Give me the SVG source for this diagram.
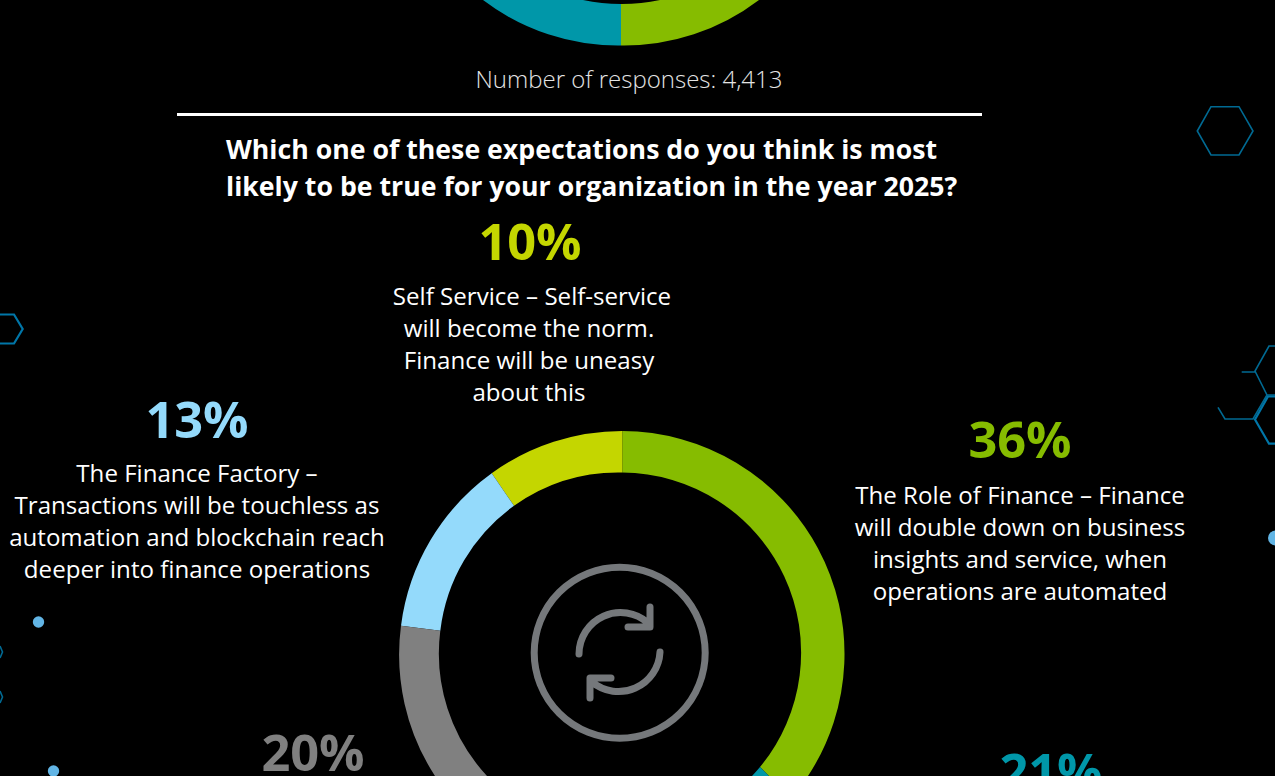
<svg xmlns="http://www.w3.org/2000/svg" width="1275" height="776" viewBox="0 0 1275 776">
<style>
text{font-family:"Open Sans","Liberation Sans",sans-serif;fill:#fff}
.b{font-size:24.1px;text-anchor:middle}
.q{font-size:26.7px;font-weight:700}
.p{font-size:50.5px;font-weight:700;text-anchor:middle}
.h{fill:none;stroke:#006a93;stroke-width:1.6}
.d{fill:#62b5e5}
.i{fill:none;stroke:#75787b;stroke-linecap:round;stroke-linejoin:round}
</style>
<rect width="1275" height="776" fill="#000"/>
<g id="top-donut">
<path d="M621 45.500A222.800 222.800 0 0 1 483 0L583 0A182 182 0 0 0 621 4Z" fill="#0097a9"/>
<path d="M621 45.500A222.800 222.800 0 0 0 759 0L660 0A182 182 0 0 1 621 4Z" fill="#86bc00"/>
</g>
<text id="responses" x="629" y="88" text-anchor="middle" font-size="24" font-weight="300" style="fill:#e4e4e4">Number of responses: 4,413</text>
<rect id="rule" x="177" y="113" width="805" height="3" fill="#fff"/>
<g id="question">
<text class="q" x="226" y="159">Which one of these expectations do you think is most</text>
<text class="q" x="226" y="196">likely to be true for your organization in the year 2025?</text>
</g>
<g id="donut">
<path d="M622.300 431A222.800 222.800 0 0 1 808 776L769 776L760 767A180 180 0 0 0 622.300 472.500Z" fill="#86bc00"/>
<path d="M769 776L760 767A180 180 0 0 1 752 776Z" fill="#0097a9"/>
<path d="M491.700 473.300A222.800 222.800 0 0 1 622.300 431L622.300 472.500A180 180 0 0 0 514 505.700Z" fill="#c4d600"/>
<path d="M401 625.700A222.800 222.800 0 0 1 491.700 473.300L514 505.700A180 180 0 0 0 440.300 630.700Z" fill="#94dafb"/>
<path d="M435 776A222.800 222.800 0 0 1 401 625.700L440.300 630.700A180 180 0 0 0 487 776Z" fill="#808080"/>
</g>
<g id="icon">
<circle class="i" cx="619.700" cy="652.700" r="85.500" stroke-width="7"/>
<path class="i" stroke-width="7" d="M579 654A41.500 41.500 0 0 1 648 623M628 627H650V607M660 652A41.500 41.500 0 0 1 592 682M611 678H590V698"/>
</g>
<g id="label-36">
<text class="p" x="1020" y="458" style="fill:#86bc00">36%</text>
<text class="b" x="1020" y="504">The Role of Finance – Finance</text>
<text class="b" x="1020" y="536">will double down on business</text>
<text class="b" x="1020" y="568">insights and service, when</text>
<text class="b" x="1020" y="600">operations are automated</text>
</g>
<g id="label-10">
<text class="p" x="530" y="260" style="fill:#c4d600">10%</text>
<text class="b" x="532" y="305">Self Service – Self-service</text>
<text class="b" x="529" y="337">will become the norm.</text>
<text class="b" x="529" y="369">Finance will be uneasy</text>
<text class="b" x="529" y="401">about this</text>
</g>
<g id="label-13">
<text class="p" x="197" y="438" style="fill:#94dafb">13%</text>
<text class="b" x="197" y="482">The Finance Factory –</text>
<text class="b" x="197" y="514">Transactions will be touchless as</text>
<text class="b" x="197" y="546">automation and blockchain reach</text>
<text class="b" x="197" y="578">deeper into finance operations</text>
</g>
<text id="label-20" class="p" x="313" y="771" style="fill:#808080">20%</text>
<text id="label-21" class="p" x="1051" y="790" style="fill:#0097a9">21%</text>
<g id="decor">
<path class="h" d="M1197.300 131L1211 106.700H1239L1253 131L1239 155H1211Z"/>
<path class="h" style="stroke:#0076a8;stroke-width:2.200" d="M0 314.500H14L22.700 329L14 343.500H0"/>
<path class="h" d="M1275 346H1269L1255 371L1267 395H1275M1241.700 372H1255M1218 407.300L1225 419H1253L1267 395"/>
<path class="h" style="stroke:#0076a8;stroke-width:2.200" d="M1275 396.500H1268L1255 419.500L1269 443.700H1275"/>
<path class="h" d="M0 646L2.500 652L0 658M0 691L2.500 697L0 703"/>
<circle class="d" cx="1275.500" cy="538" r="7.500"/>
<circle class="d" cx="38.500" cy="622" r="5.700"/>
<circle class="d" cx="53.500" cy="771" r="5.700"/>
</g>
</svg>
